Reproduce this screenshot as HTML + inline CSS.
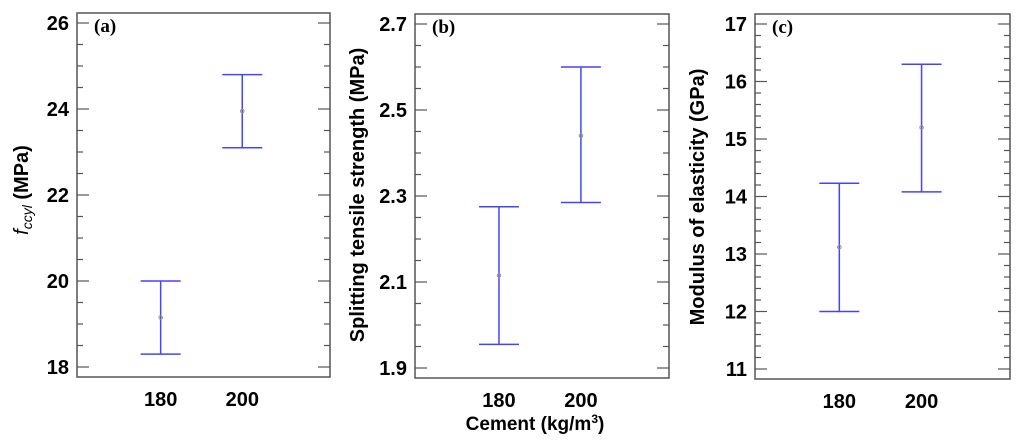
<!DOCTYPE html>
<html><head><meta charset="utf-8"><style>
html,body{margin:0;padding:0;background:#fff;}
svg{display:block;}
</style></head><body>
<svg id="chart" width="1024" height="445" viewBox="0 0 1024 445" xmlns="http://www.w3.org/2000/svg" font-family="Liberation Sans, sans-serif">
<g id="pa"></g>
<g id="pb"></g>
<g id="pc"></g>
<text x="535" y="430" text-anchor="middle" font-size="19" font-weight="bold">Cement (kg/m<tspan dy="-7" font-size="12">3</tspan><tspan dy="7">)</tspan></text>
</svg>
<script>
const categories = [180, 200];
const aMeans = [19.15, 23.95];
const aLow = [18.3, 23.1];
const aHigh = [20.0, 24.8];
const bMeans = [2.115, 2.44];
const bLow = [1.955, 2.285];
const bHigh = [2.275, 2.6];
const cMeans = [13.12, 15.2];
const cLow = [12.0, 14.08];
const cHigh = [14.23, 16.3];
const aTicks = ['18','20','22','24','26'];
const bTicks = ['1.9','2.1','2.3','2.5','2.7'];
const cTicks = ['11','12','13','14','15','16','17'];
const NS='http://www.w3.org/2000/svg';
function mk(parent,tag,attrs){const e=document.createElementNS(NS,tag);for(const k in attrs)e.setAttribute(k,attrs[k]);parent.appendChild(e);return e;}
function panel(g,box,ymin,ymax,minorStep,ticks,means,low,high,label){
  const [x0,y0,x1,y1]=box;
  const yTop=y0+10,yBot=y1-10;
  const ys=v=>yBot-(v-ymin)/(ymax-ymin)*(yBot-yTop);
  const xs=v=>x0+(v-159.5)/(221.5-159.5)*(x1-x0);
  const frame=mk(g,'rect',{x:x0,y:y0,width:x1-x0,height:y1-y0,fill:'none',stroke:'#555','stroke-width':1.5});
  
  
  const n=Math.round((ymax-ymin)/minorStep);
  const majorVals=ticks.map(Number);
  for(let i=0;i<=n;i++){
    const v=ymin+i*minorStep;const y=ys(v);
    const major=majorVals.some(m=>Math.abs(m-v)<1e-6);
    const len=major?12:6;
    const t1=mk(g,'line',{x1:x0,x2:x0+len,y1:y,y2:y,stroke:'#555','stroke-width':1.2});
    
    
    const t2=mk(g,'line',{x1:x1,x2:x1-len,y1:y,y2:y,stroke:'#555','stroke-width':1.2});
    
    
  }
  ticks.forEach(t=>{
    const tx=mk(g,'text',{x:x0-8,y:ys(Number(t))+7,'text-anchor':'end','font-size':20,'font-weight':'bold'});
    tx.textContent=t;
    
    
  });
  categories.forEach((c,i)=>{
    const x=xs(c);
    const tx=mk(g,'text',{x:x,y:y1+29,'text-anchor':'middle','font-size':20,'font-weight':'bold'});
    tx.textContent=String(c);
    
    
    const eg=mk(g,'g',{});
    
    
    mk(eg,'line',{x1:x,x2:x,y1:ys(low[i]),y2:ys(high[i]),stroke:'#4444ff','stroke-width':1.5});
    mk(eg,'line',{x1:x-20,x2:x+20,y1:ys(low[i]),y2:ys(low[i]),stroke:'#4444ff','stroke-width':1.5});
    mk(eg,'line',{x1:x-20,x2:x+20,y1:ys(high[i]),y2:ys(high[i]),stroke:'#4444ff','stroke-width':1.5});
    const p=mk(g,'circle',{cx:x,cy:ys(means[i]),r:1.8,fill:'none',stroke:'#999966','stroke-width':1});
    
    
  });
  const lb=mk(g,'text',{x:x0+17,y:y0+19,'font-family':'Liberation Serif, serif','font-size':19,'font-weight':'bold'});
  lb.textContent=label;
  
  
}
panel(document.getElementById('pa'),[77,13,330,377],18,26,0.5,aTicks,aMeans,aLow,aHigh,'(a)');
panel(document.getElementById('pb'),[415,14,669,378],1.9,2.7,0.05,bTicks,bMeans,bLow,bHigh,'(b)');
panel(document.getElementById('pc'),[755,14,1010,379],11,17,0.2,cTicks,cMeans,cLow,cHigh,'(c)');
const svg=document.getElementById('chart');
const ya=mk(svg,'text',{transform:'translate(28,190) rotate(-90)','text-anchor':'middle','font-size':20,'font-weight':'bold'});
ya.innerHTML='<tspan font-style="italic" font-weight="normal">f</tspan><tspan font-style="italic" font-weight="normal" font-size="14" dy="4">ccyl</tspan><tspan dy="-4"> (MPa)</tspan>';


const yb=mk(svg,'text',{transform:'translate(364,195) rotate(-90)','text-anchor':'middle','font-size':20,'font-weight':'bold'});
yb.textContent='Splitting tensile strength (MPa)';


const yc=mk(svg,'text',{transform:'translate(704,197) rotate(-90)','text-anchor':'middle','font-size':20,'font-weight':'bold'});
yc.textContent='Modulus of elasticity (GPa)';


</script>
</body></html>
